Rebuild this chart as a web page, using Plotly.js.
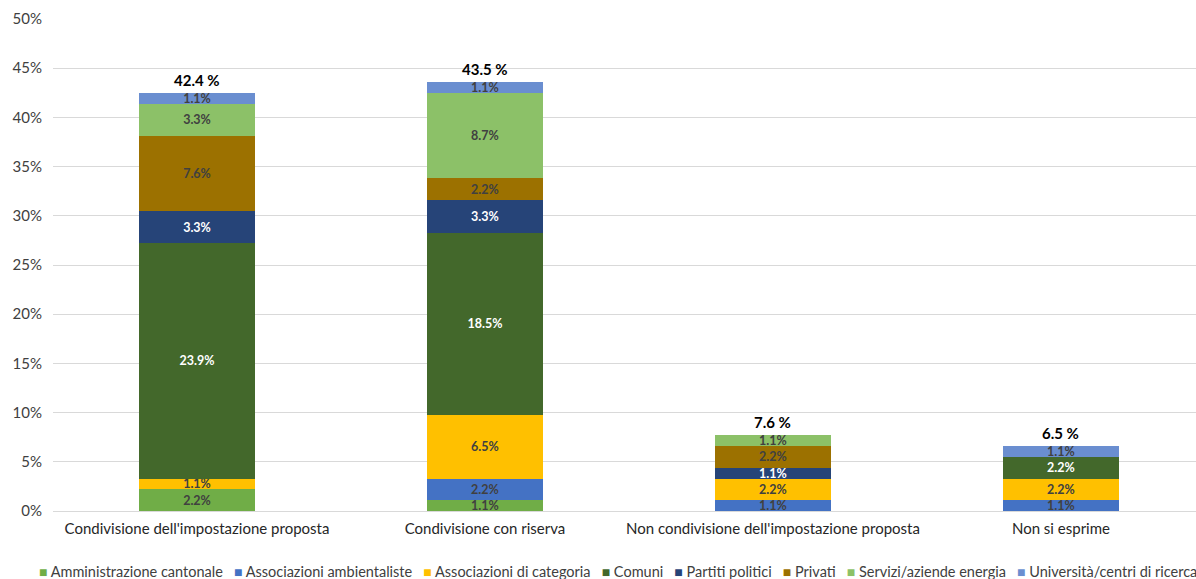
<!DOCTYPE html>
<html>
<head>
<meta charset="utf-8">
<script src="https://cdn.plot.ly/plotly-3.0.1.min.js"></script>
<style>html,body{margin:0;padding:0;background:#fff;}#chart{width:1196px;height:579px;}</style>
</head>
<body>
<div id="chart"></div>
<script>
const categories = ["Condivisione dell'impostazione proposta", "Condivisione con riserva", "Non condivisione dell'impostazione proposta", "Non si esprime"];
const totals = [42.4, 43.5, 7.6, 6.5];
const seriesNames = ["Amministrazione cantonale", "Associazioni ambientaliste", "Associazioni di categoria", "Comuni", "Partiti politici", "Privati", "Servizi/aziende energia", "Università/centri di ricerca"];
const amministrazioneCantonale = [2.2, 1.1, 0, 0];
const associazioniAmbientaliste = [0, 2.2, 1.1, 1.1];
const associazioniCategoria = [1.1, 6.5, 2.2, 2.2];
const comuni = [23.9, 18.5, 0, 2.2];
const partitiPolitici = [3.3, 3.3, 1.1, 0];
const privati = [7.6, 2.2, 2.2, 0];
const serviziEnergia = [3.3, 8.7, 1.1, 0];
const universita = [1.1, 1.1, 0, 1.1];
const seriesValues = [amministrazioneCantonale, associazioniAmbientaliste, associazioniCategoria, comuni, partitiPolitici, privati, serviziEnergia, universita];
const seriesColors = ["#70AD47", "#4472C4", "#FFC000", "#43682B", "#264478", "#9C7100", "#8CC168", "#6A8ED0"];
const labelColors = ["#404040", "#404040", "#404040", "#FFFFFF", "#FFFFFF", "#404040", "#404040", "#404040"];

const FONT = "Lato, 'Liberation Sans', sans-serif";

const traces = seriesNames.map((name, i) => ({
  type: 'bar',
  name: name,
  x: categories,
  y: seriesValues[i],
  text: seriesValues[i].map(v => v > 0 ? v.toFixed(1) + '%' : ''),
  textposition: 'inside',
  insidetextanchor: 'middle',
  constraintext: 'none',
  textfont: {family: FONT, size: 12.5, color: labelColors[i], weight: 'bold'},
  marker: {color: seriesColors[i], line: {width: 0}},
  hoverinfo: 'name+y',
  showlegend: false
}));

const totalAnnotations = categories.map((c, i) => ({
  xref: 'x', yref: 'y',
  x: c, y: totals[i],
  xanchor: 'center', yanchor: 'bottom',
  yshift: 3,
  showarrow: false,
  text: '<b>' + totals[i].toFixed(1) + ' %</b>',
  font: {family: FONT, size: 15, color: '#000000'}
}));

const legendText = seriesNames.map((n, i) =>
  '<span style="color:' + seriesColors[i] + ';font-size:14px">■</span> ' + n
).join('&nbsp;&nbsp;&nbsp;');

const layout = {
  width: 1196,
  height: 579,
  margin: {l: 53, r: 0, t: 19, b: 68},
  paper_bgcolor: '#ffffff',
  plot_bgcolor: '#ffffff',
  barmode: 'stack',
  bargap: 0.6,
  font: {family: FONT, size: 15, color: '#404040'},
  showlegend: false,
  xaxis: {
    type: 'category',
    range: [-0.5, 3.469],
    showgrid: false,
    showline: false,
    zeroline: false,
    ticks: '',
    tickfont: {family: FONT, size: 15, color: '#262626'},
    ticklabelstandoff: 7
  },
  yaxis: {
    range: [0, 50],
    dtick: 5,
    ticksuffix: '%',
    showgrid: true,
    gridcolor: '#D9D9D9',
    gridwidth: 1,
    zeroline: true,
    zerolinecolor: '#D9D9D9',
    zerolinewidth: 1,
    showline: false,
    ticks: '',
    tickfont: {family: FONT, size: 15, color: '#404040'},
    ticklabelstandoff: 10
  },
  annotations: totalAnnotations.concat([{
    xref: 'paper', yref: 'paper',
    x: -0.014, y: -0.122,
    xanchor: 'left', yanchor: 'middle',
    showarrow: false,
    align: 'left',
    text: legendText,
    font: {family: FONT, size: 14.5, color: '#404040'}
  }])
};

Plotly.newPlot('chart', traces, layout, {displayModeBar: false, staticPlot: true});
</script>
</body>
</html>
